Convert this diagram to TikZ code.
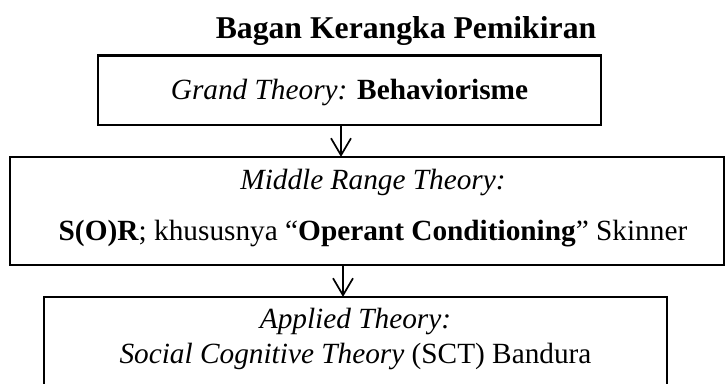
\documentclass[tikz,border=0pt]{standalone}
\usepackage{fontspec}
\setmainfont{Liberation Serif}
\usetikzlibrary{arrows.meta}
\tikzset{
  box/.style={draw=black, line width=2.2pt, inner sep=0pt, fill=none},
  txt/.style={anchor=base, inner sep=0pt, font=\fontsize{29.3}{35}\selectfont},
  ttl/.style={anchor=base, inner sep=0pt, font=\fontsize{31.7}{38}\selectfont\bfseries},
  arr/.style={line width=1.7pt, -{Straight Barb[length=17pt,width=20pt,line width=1.7pt]}}
}
\begin{document}
\begin{tikzpicture}[x=1pt,y=-1pt]
\useasboundingbox (0,0) rectangle (725,383);
\clip (0,0) rectangle (725,383);
\fill[white] (0,0) rectangle (725,383);
\node[ttl] (title) at (406,38) {Bagan Kerangka Pemikiran};
\node[box, minimum width=503pt, minimum height=69.5pt] (b1) at (349.5,90.25) {};
\node[box, minimum width=714pt, minimum height=108pt] (b2) at (367,211) {};
\node[box, minimum width=623pt, minimum height=123pt] (b3) at (355.5,358.5) {};
\node[txt] (t1) at (349.5,99) {\textit{Grand Theory:} \textbf{Behaviorisme}};
\node[txt] (t2a) at (373,189) {\textit{Middle Range Theory:}};
\node[txt] (t2b) at (373,240) {\textbf{S(O)R}; khususnya “\textbf{Operant Conditioning}” Skinner};
\node[txt] (t3a) at (355.5,328) {\textit{Applied Theory:}};
\node[txt] (t3b) at (355.5,363) {\textit{Social Cognitive Theory} (SCT) Bandura};
\coordinate (a1x) at (341,0);
\coordinate (a2x) at (343,0);
\draw[arr] (a1x |- b1.south) -- ([yshift=-1pt]a1x |- b2.north);
\draw[arr] (a2x |- b2.south) -- ([yshift=-1pt]a2x |- b3.north);
\end{tikzpicture}
\end{document}
